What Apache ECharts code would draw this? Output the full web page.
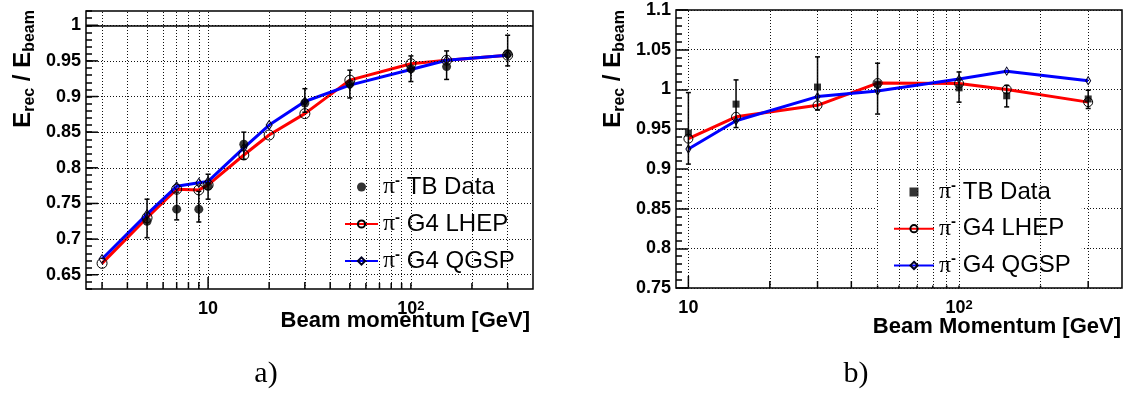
<!DOCTYPE html>
<html><head><meta charset="utf-8">
<script src="https://cdn.jsdelivr.net/npm/echarts@6/dist/echarts.min.js"></script>
<style>html,body{margin:0;padding:0;background:#fff}#c{width:1128px;height:394px}</style>
</head><body><div id="c"></div>
<script>
// ---------- data: panel a) ----------
const leftEnergy = [3, 5, 7, 9, 10, 15, 20, 30, 50, 100, 150, 300];
const leftLHEP   = [0.666, 0.730, 0.770, 0.769, 0.776, 0.818, 0.846, 0.876, 0.923, 0.946, 0.951, 0.958];
const leftQGSP   = [0.672, 0.735, 0.774, 0.779, 0.781, 0.828, 0.860, 0.893, 0.916, 0.938, 0.951, 0.958];
const leftTBEnergy = [5, 7, 9, 10, 15, 30, 50, 100, 150, 300];
const leftTB       = [0.725, 0.742, 0.742, 0.774, 0.833, 0.891, 0.918, 0.939, 0.942, 0.960];
const leftTBLow    = [0.702, 0.727, 0.724, 0.756, 0.812, 0.878, 0.898, 0.921, 0.924, 0.943];
const leftTBHigh   = [0.756, 0.766, 0.767, 0.791, 0.850, 0.911, 0.937, 0.957, 0.964, 0.986];
const leftXRange = [2.5, 400];
const leftYRange = [0.63, 1.02];
const leftXGrid = [3, 4, 5, 6, 7, 8, 9, 10, 20, 30, 40, 50, 60, 70, 80, 90, 100, 200, 300];
const leftYGrid = [0.65, 0.7, 0.75, 0.8, 0.85, 0.9, 0.95, 1.0];
const leftRefLine = [1];

// ---------- data: panel b) ----------
const rightEnergy = [10, 15, 30, 50, 100, 150, 300];
const rightLHEP   = [0.938, 0.9655, 0.980, 1.008, 1.0075, 1.000, 0.984];
const rightQGSP   = [0.925, 0.9605, 0.991, 0.998, 1.013, 1.023, 1.011];
const rightTBEnergy = [10, 15, 30, 50, 100, 150, 300];
const rightTB       = [0.945, 0.9815, 1.003, 1.0067, 1.002, 0.992, 0.988];
const rightTBLow    = [0.906, 0.952, 0.974, 0.969, 0.984, 0.978, 0.976];
const rightTBHigh   = [0.996, 1.012, 1.041, 1.033, 1.022, 1.005, 0.999];
const rightXRange = [9, 400];
const rightYRange = [0.75, 1.1];
const rightYStep = 0.05;
const rightXGrid = [10, 20, 30, 40, 50, 60, 70, 80, 90, 100, 200, 300];

const legendNames = {
  'TB a': '{pi|π}{sup|-} TB Data', 'LHEP a': '{pi|π}{sup|-} G4 LHEP', 'QGSP a': '{pi|π}{sup|-} G4 QGSP',
  'TB b': '{pi|π}{sup|-} TB Data', 'LHEP b': '{pi|π}{sup|-} G4 LHEP', 'QGSP b': '{pi|π}{sup|-} G4 QGSP'
};

// ---------- helpers ----------
const FONT = "'Liberation Sans', Arial, Helvetica, sans-serif";
const SERIF = "'Liberation Serif', 'Times New Roman', serif";
const zip = (a, b) => a.map((v, i) => [v, b[i]]);
const isDecade = v => Math.abs(Math.log10(v) - Math.round(Math.log10(v))) < 1e-6;
const dotted = { type: [1, 2], color: '#111', width: 1 };

function xTicks(yRef) {
  return function (params, api) {
    const v = api.value(0);
    const p = api.coord([v, yRef]);
    const cs = params.coordSys;
    const bottom = cs.y + cs.height;
    const len = isDecade(v) ? 12 : 7;
    return { type: 'line', shape: { x1: p[0], y1: bottom, x2: p[0], y2: bottom - len },
      style: { stroke: '#000', lineWidth: 1.5 } };
  };
}
function yMajorTicks(xRef) {
  return function (params, api) {
    const v = api.value(0);
    const p = api.coord([xRef, v]);
    const cs = params.coordSys;
    return { type: 'line', shape: { x1: cs.x, y1: p[1], x2: cs.x + 12, y2: p[1] },
      style: { stroke: '#000', lineWidth: 1.5 } };
  };
}
function errBars(params, api) {
  const x = api.value(0), lo = api.value(1), hi = api.value(2);
  const a = api.coord([x, lo]), b = api.coord([x, hi]);
  const w = 2.5, st = { stroke: '#000', lineWidth: 1.5 };
  return { type: 'group', children: [
    { type: 'line', shape: { x1: a[0], y1: a[1], x2: b[0], y2: b[1] }, style: st },
    { type: 'line', shape: { x1: a[0] - w, y1: a[1], x2: a[0] + w, y2: a[1] }, style: st },
    { type: 'line', shape: { x1: b[0] - w, y1: b[1], x2: b[0] + w, y2: b[1] }, style: st }
  ] };
}
function xLabel(v) {
  if (Math.abs(v - 10) < 1e-6) return '10';
  if (Math.abs(v - 100) < 1e-6) return '10{s|2}';
  return '';
}
const axisLabelBase = { fontSize: 18, fontWeight: 'bold', color: '#000', fontFamily: FONT };

function xAxisCfg(gi, range) {
  return { type: 'log', logBase: 10, gridIndex: gi, min: range[0], max: range[1],
    axisLine: { show: false }, axisTick: { show: false }, splitLine: { show: false },
    minorTick: { show: false }, minorSplitLine: { show: false },
    axisLabel: Object.assign({}, axisLabelBase, { margin: 11, formatter: xLabel, showMinLabel: false, showMaxLabel: false,
      rich: { s: { fontSize: 13, fontWeight: 'bold', fontFamily: FONT, color: '#000', verticalAlign: 'top', lineHeight: 12 } } }) };
}

function legendCfg(names, left, top, padding, itemWidth, gap) {
  return { orient: 'vertical', left: left, top: top, padding: padding, backgroundColor: '#fff',
    itemWidth: itemWidth, itemHeight: 9, itemGap: gap, selectedMode: false, symbolKeepAspect: true,
    data: names, formatter: n => legendNames[n],
    textStyle: { fontSize: 24, fontFamily: FONT, color: '#000', lineHeight: 28,
      rich: { pi: { fontSize: 24, fontFamily: SERIF, color: '#000', lineHeight: 28 },
              sup: { fontSize: 15, fontFamily: FONT, fontWeight: 'bold', color: '#000', verticalAlign: 'top', lineHeight: 18 } } } };
}

const titleRich = {
  e: { fontSize: 24, fontWeight: 'bold', fontFamily: FONT, fill: '#000', lineHeight: 30 },
  s: { fontSize: 16, fontWeight: 'bold', fontFamily: FONT, fill: '#000', lineHeight: 16, verticalAlign: 'bottom' }
};

const option = {
  animation: false,
  backgroundColor: '#fff',
  grid: [
    { left: 86, top: 11, width: 447, height: 278, show: true, borderColor: '#000', borderWidth: 1.5, backgroundColor: 'transparent' },
    { left: 676, top: 10, width: 446, height: 278, show: true, borderColor: '#000', borderWidth: 1.5, backgroundColor: 'transparent' }
  ],
  xAxis: [ xAxisCfg(0, leftXRange), xAxisCfg(1, rightXRange) ],
  yAxis: [
    { type: 'value', gridIndex: 0, min: leftYRange[0], max: leftYRange[1], interval: 0.01,
      axisLine: { show: false }, splitLine: { show: false },
      axisTick: { inside: true, length: 6, lineStyle: { color: '#000', width: 1.5 } },
      axisLabel: Object.assign({}, axisLabelBase, { margin: 5,
        formatter: v => leftYGrid.some(g => Math.abs(g - v) < 1e-6) ? String(Math.round(v * 100) / 100) : '' }) },
    { type: 'value', gridIndex: 1, min: rightYRange[0], max: rightYRange[1], interval: rightYStep,
      axisLine: { show: false },
      splitLine: { show: true, lineStyle: dotted },
      axisTick: { inside: true, length: 12, lineStyle: { color: '#000', width: 1.5 } },
      minorTick: { show: true, splitNumber: 5, length: 6, lineStyle: { color: '#000', width: 1.5 } },
      axisLabel: Object.assign({}, axisLabelBase, { margin: 5 }) }
  ],
  legend: [
    legendCfg(['TB a', 'LHEP a', 'QGSP a'], 337, 165, [8, 11, 8, 7], 33, 9),
    legendCfg([{ name: 'TB b', icon: 'path://M0 0H10V10H0Z' }, 'LHEP b', 'QGSP b'], 876, 172, [6, 11, 6, 17], 40, 8.7)
  ],
  series: [
    // ----- panel a -----
    { type: 'custom', xAxisIndex: 0, yAxisIndex: 0, z: 1, silent: true,
      renderItem: xTicks(leftYRange[0]), data: leftXGrid.map(v => [v]),
      markLine: { silent: true, symbol: 'none', label: { show: false },
        data: leftXGrid.map(v => ({ xAxis: v, lineStyle: dotted }))
          .concat(leftYGrid.map(v => ({ yAxis: v, lineStyle: dotted })))
          .concat(leftRefLine.map(v => ({ yAxis: v, lineStyle: { type: 'solid', color: '#000', width: 1.5 } }))) } },
    { type: 'custom', xAxisIndex: 0, yAxisIndex: 0, z: 1, silent: true,
      renderItem: yMajorTicks(leftXRange[0]), data: leftYGrid.map(v => [v]), encode: { y: 0 } },
    { name: 'LHEP a', type: 'line', xAxisIndex: 0, yAxisIndex: 0, z: 3, data: zip(leftEnergy, leftLHEP),
      symbol: 'circle', symbolSize: 10, lineStyle: { color: '#ff0000', width: 3 },
      itemStyle: { color: 'rgba(0,0,0,0)', borderColor: '#000', borderWidth: 1 } },
    { name: 'QGSP a', type: 'line', xAxisIndex: 0, yAxisIndex: 0, z: 3, data: zip(leftEnergy, leftQGSP),
      symbol: 'diamond', symbolSize: [6, 9], lineStyle: { color: '#0000ff', width: 3 },
      itemStyle: { color: 'rgba(0,0,0,0)', borderColor: '#000022', borderWidth: 1 } },
    { type: 'custom', xAxisIndex: 0, yAxisIndex: 0, z: 4, silent: true, renderItem: errBars,
      encode: { x: 0, y: [1, 2] }, data: leftTBEnergy.map((v, i) => [v, leftTBLow[i], leftTBHigh[i]]) },
    { name: 'TB a', type: 'scatter', xAxisIndex: 0, yAxisIndex: 0, z: 5, data: zip(leftTBEnergy, leftTB),
      symbol: 'circle', symbolSize: 9, itemStyle: { color: '#000' } },
    // ----- panel b -----
    { type: 'custom', xAxisIndex: 1, yAxisIndex: 1, z: 1, silent: true,
      renderItem: xTicks(rightYRange[0]), data: rightXGrid.map(v => [v]),
      markLine: { silent: true, symbol: 'none', label: { show: false },
        data: rightXGrid.map(v => ({ xAxis: v, lineStyle: dotted })) } },
    { name: 'LHEP b', type: 'line', xAxisIndex: 1, yAxisIndex: 1, z: 3, data: zip(rightEnergy, rightLHEP),
      symbol: 'circle', symbolSize: 9, lineStyle: { color: '#ff0000', width: 3 },
      itemStyle: { color: 'rgba(0,0,0,0)', borderColor: '#000', borderWidth: 1 } },
    { name: 'QGSP b', type: 'line', xAxisIndex: 1, yAxisIndex: 1, z: 3, data: zip(rightEnergy, rightQGSP),
      symbol: 'diamond', symbolSize: [5, 8], lineStyle: { color: '#0000ff', width: 3 },
      itemStyle: { color: 'rgba(0,0,0,0)', borderColor: '#000022', borderWidth: 1 } },
    { type: 'custom', xAxisIndex: 1, yAxisIndex: 1, z: 4, silent: true, renderItem: errBars,
      encode: { x: 0, y: [1, 2] }, data: rightTBEnergy.map((v, i) => [v, rightTBLow[i], rightTBHigh[i]]) },
    { name: 'TB b', type: 'scatter', xAxisIndex: 1, yAxisIndex: 1, z: 5, data: zip(rightTBEnergy, rightTB),
      symbol: 'rect', symbolSize: 7, itemStyle: { color: '#000' } }
  ],
  graphic: [
    { type: 'text', x: 23, y: 10, rotation: Math.PI / 2,
      style: { text: '{e|E}{s|rec}{e| / E}{s|beam}', rich: titleRich, align: 'right', verticalAlign: 'middle', fill: '#000' } },
    { type: 'text', x: 613, y: 10, rotation: Math.PI / 2,
      style: { text: '{e|E}{s|rec}{e| / E}{s|beam}', rich: titleRich, align: 'right', verticalAlign: 'middle', fill: '#000' } },
    { type: 'text', x: 530, y: 321,
      style: { text: 'Beam momentum [GeV]', font: "bold 22px " + FONT, align: 'right', verticalAlign: 'middle', fill: '#000' } },
    { type: 'text', x: 1121, y: 327,
      style: { text: 'Beam Momentum [GeV]', font: "bold 22px " + FONT, align: 'right', verticalAlign: 'middle', fill: '#000' } },
    { type: 'text', x: 266, y: 374,
      style: { text: 'a)', font: "30px " + SERIF, align: 'center', verticalAlign: 'middle', fill: '#000' } },
    { type: 'text', x: 856, y: 374,
      style: { text: 'b)', font: "30px " + SERIF, align: 'center', verticalAlign: 'middle', fill: '#000' } }
  ]
};
const chart = echarts.init(document.getElementById('c'));
chart.setOption(option);
</script></body></html>
